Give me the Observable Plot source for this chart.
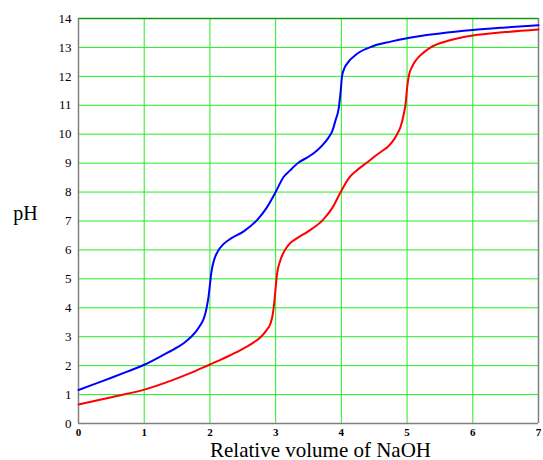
<!DOCTYPE html>
<html>
<head>
<meta charset="utf-8">
<script src="https://cdn.jsdelivr.net/npm/d3@7"></script>
<script src="https://cdn.jsdelivr.net/npm/@observablehq/plot@0.6"></script>
<style>
  html, body { margin: 0; padding: 0; background: #fff; }
  #chart { width: 543px; height: 460px; }
</style>
</head>
<body>
<div id="chart"></div>
<script>
// Blue curve (pH vs relative volume of NaOH)
const blueX  = [0, 0.25, 0.5, 0.75, 1.0, 1.3, 1.5, 1.62, 1.78, 1.86, 1.91, 1.95, 1.98, 2.0, 2.02, 2.06, 2.12, 2.21, 2.31, 2.52, 2.72, 2.87, 3.0, 3.12, 3.22, 3.35, 3.5, 3.63, 3.75, 3.81, 3.86, 3.91, 3.96, 3.99, 4.01, 4.05, 4.09, 4.24, 4.49, 4.75, 5.0, 5.5, 6.0, 6.5, 7.0];
const bluePH = [1.16, 1.37, 1.58, 1.8, 2.03, 2.38, 2.63, 2.81, 3.16, 3.42, 3.65, 4.0, 4.4, 4.8, 5.2, 5.63, 5.95, 6.21, 6.38, 6.65, 7.04, 7.48, 8.0, 8.52, 8.75, 9.02, 9.22, 9.44, 9.72, 9.9, 10.1, 10.47, 10.9, 11.5, 12.0, 12.3, 12.45, 12.78, 13.05, 13.2, 13.32, 13.48, 13.6, 13.69, 13.77];

// Red curve
const redX  = [0, 0.5, 1.0, 1.42, 1.7, 2.0, 2.16, 2.3, 2.5, 2.65, 2.77, 2.86, 2.92, 2.95, 2.98, 3.0, 3.02, 3.07, 3.13, 3.21, 3.31, 3.5, 3.72, 3.87, 3.99, 4.12, 4.22, 4.39, 4.5, 4.62, 4.7, 4.78, 4.85, 4.9, 4.95, 4.98, 5.0, 5.03, 5.08, 5.15, 5.25, 5.36, 5.61, 6.0, 6.5, 7.0];
const redPH = [0.66, 0.91, 1.17, 1.49, 1.74, 2.04, 2.2, 2.35, 2.58, 2.78, 2.98, 3.22, 3.45, 3.7, 4.2, 4.7, 5.15, 5.63, 5.95, 6.21, 6.38, 6.65, 7.04, 7.48, 8.0, 8.5, 8.72, 9.02, 9.22, 9.42, 9.55, 9.75, 10.01, 10.25, 10.7, 11.1, 11.6, 12.05, 12.35, 12.6, 12.82, 13.0, 13.22, 13.41, 13.53, 13.62];

const xTicks = [0, 1, 2, 3, 4, 5, 6, 7];
const yTicks = [0, 1, 2, 3, 4, 5, 6, 7, 8, 9, 10, 11, 12, 13, 14];
const xLabel = "Relative volume of NaOH";
const yLabel = "pH";

const blue = blueX.map((x, i) => ({x, y: bluePH[i]}));
const red = redX.map((x, i) => ({x, y: redPH[i]}));

const serif = "'Times New Roman', 'Liberation Serif', serif";

const chart = Plot.plot({
  width: 543,
  height: 460,
  marginLeft: 78,
  marginRight: 5,
  marginTop: 18,
  marginBottom: 37,
  style: {fontFamily: serif, fontVariant: "normal", background: "#fff", color: "#000"},
  x: {domain: [0, 7], axis: null},
  y: {domain: [0, 14], axis: null},
  marks: [
    Plot.gridX(xTicks, {stroke: "#22ee22", strokeOpacity: 1, strokeWidth: 1}),
    Plot.gridY(yTicks, {stroke: "#22ee22", strokeOpacity: 1, strokeWidth: 1}),
    Plot.ruleY([14], {stroke: "#119911", strokeWidth: 1.5}),
    Plot.ruleX([0, 7], {stroke: "#808080", strokeWidth: 1.5}),
    Plot.ruleY([0], {stroke: "#808080", strokeWidth: 1.5}),
    Plot.line(blue, {x: "x", y: "y", stroke: "#0000ff", strokeWidth: 2, curve: "monotone-x"}),
    Plot.line(red, {x: "x", y: "y", stroke: "#ff0000", strokeWidth: 2, curve: "monotone-x"}),
    Plot.text(yTicks, {x: 0, y: d => d, text: d => String(d), textAnchor: "end", dx: -7, fontSize: 13, fontFamily: serif, fill: "#000"}),
    Plot.text(xTicks, {x: d => d, y: 0, text: d => String(d), textAnchor: "middle", dy: 8.5, fontSize: 11, fontWeight: "bold", fontFamily: serif, fill: "#000"}),
    Plot.text([xLabel], {frameAnchor: "bottom", textAnchor: "middle", dx: 12, dy: 33, fontSize: 21, fontFamily: serif, fill: "#000"}),
    Plot.text([yLabel], {frameAnchor: "left", textAnchor: "middle", dx: -53, dy: -7, fontSize: 20, fontFamily: serif, fill: "#000"})
  ]
});
d3.select(chart).selectAll("text").style("font-family", serif).style("font-variant", "normal");
document.getElementById("chart").appendChild(chart);
</script>
</body>
</html>
